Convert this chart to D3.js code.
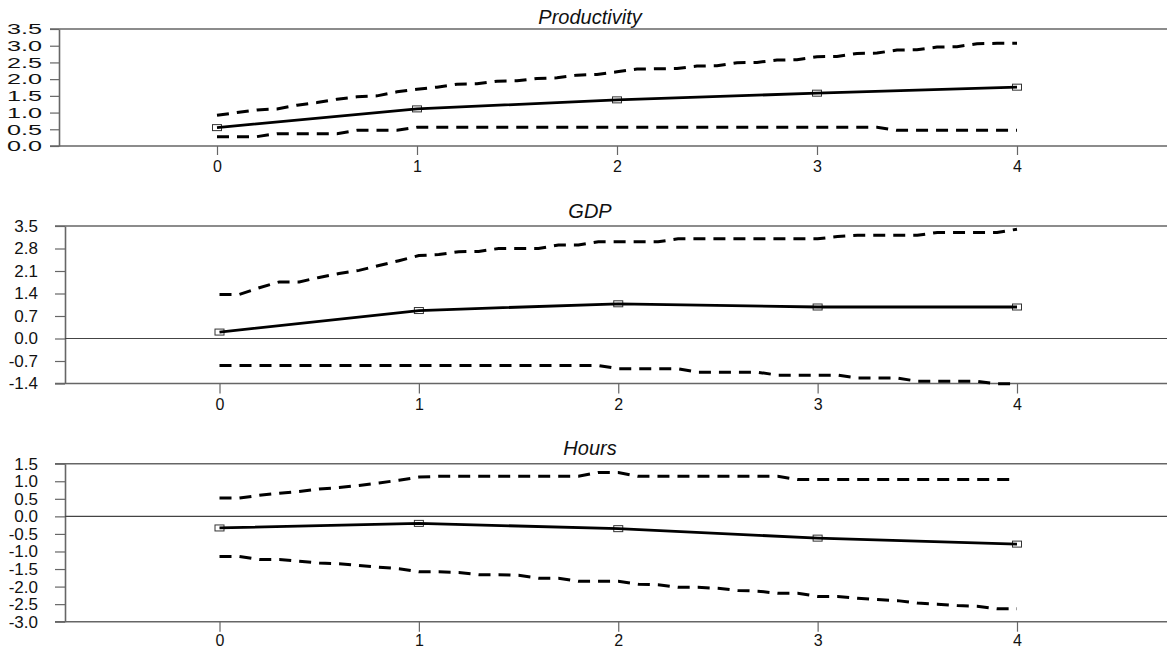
<!DOCTYPE html>
<html>
<head>
<meta charset="utf-8">
<script src="https://d3js.org/d3.v7.min.js"></script>
<style>
  body { margin: 0; background: #fff; }
  svg text { font-family: "Liberation Sans", Arial, sans-serif; fill: #111; }
</style>
</head>
<body>
<svg width="1167" height="651"></svg>
<script>
// horizons of the impulse response (solid line) and of the error bands (dashed)
const horizons = [0, 1, 2, 3, 4];
const bandSteps = [0, 0.1, 0.2, 0.3, 0.4, 0.5, 0.6, 0.7, 0.8, 0.9,
                   1, 1.1, 1.2, 1.3, 1.4, 1.5, 1.6, 1.7, 1.8, 1.9,
                   2, 2.1, 2.2, 2.3, 2.4, 2.5, 2.6, 2.7, 2.8, 2.9,
                   3, 3.1, 3.2, 3.3, 3.4, 3.5, 3.6, 3.7, 3.8, 3.9, 4];

const titles = ["Productivity", "GDP", "Hours"];

const prodTicks = [0, 0.5, 1, 1.5, 2, 2.5, 3, 3.5];
const prodMid = [0.55, 1.11, 1.38, 1.58, 1.76];
const prodUp = [0.92, 1.00, 1.08, 1.11, 1.22, 1.30, 1.40, 1.47, 1.50, 1.62,
                1.70, 1.76, 1.85, 1.86, 1.94, 1.95, 2.02, 2.04, 2.12, 2.14,
                2.22, 2.30, 2.31, 2.32, 2.39, 2.40, 2.49, 2.50, 2.57, 2.58,
                2.67, 2.68, 2.77, 2.78, 2.87, 2.88, 2.96, 2.97, 3.06, 3.07, 3.07];
const prodLo = [0.28, 0.28, 0.28, 0.37, 0.37, 0.37, 0.37, 0.47, 0.47, 0.47,
                0.56, 0.56, 0.56, 0.56, 0.56, 0.56, 0.56, 0.56, 0.56, 0.56,
                0.56, 0.56, 0.56, 0.56, 0.56, 0.56, 0.56, 0.56, 0.56, 0.56,
                0.56, 0.56, 0.56, 0.56, 0.47, 0.47, 0.47, 0.47, 0.47, 0.47, 0.47];

const gdpTicks = [-1.4, -0.7, 0, 0.7, 1.4, 2.1, 2.8, 3.5];
const gdpMid = [0.20, 0.87, 1.08, 0.98, 0.98];
const gdpUp = [1.37, 1.37, 1.58, 1.76, 1.76, 1.90, 2.02, 2.12, 2.27, 2.42,
               2.58, 2.61, 2.70, 2.71, 2.80, 2.80, 2.80, 2.91, 2.91, 3.01,
               3.01, 3.01, 3.01, 3.10, 3.10, 3.10, 3.10, 3.10, 3.10, 3.10,
               3.10, 3.17, 3.21, 3.21, 3.21, 3.21, 3.30, 3.30, 3.30, 3.30, 3.40];
const gdpLo = [-0.84, -0.84, -0.84, -0.84, -0.84, -0.84, -0.84, -0.84, -0.84, -0.84,
               -0.84, -0.84, -0.84, -0.84, -0.84, -0.84, -0.84, -0.84, -0.84, -0.84,
               -0.94, -0.94, -0.94, -0.94, -1.05, -1.05, -1.05, -1.05, -1.14, -1.14,
               -1.14, -1.14, -1.23, -1.23, -1.23, -1.33, -1.33, -1.33, -1.33, -1.41, -1.41];

const hoursTicks = [-3, -2.5, -2, -1.5, -1, -0.5, 0, 0.5, 1, 1.5];
const hoursMid = [-0.33, -0.20, -0.35, -0.62, -0.79];
const hoursUp = [0.52, 0.52, 0.60, 0.66, 0.71, 0.78, 0.82, 0.88, 0.95, 1.03,
                 1.12, 1.14, 1.14, 1.14, 1.14, 1.14, 1.14, 1.14, 1.14, 1.25,
                 1.25, 1.14, 1.14, 1.14, 1.14, 1.14, 1.14, 1.14, 1.14, 1.05,
                 1.05, 1.05, 1.05, 1.05, 1.05, 1.05, 1.05, 1.05, 1.05, 1.05, 1.05];
const hoursLo = [-1.14, -1.14, -1.23, -1.23, -1.28, -1.33, -1.35, -1.40, -1.45, -1.49,
                 -1.58, -1.58, -1.60, -1.66, -1.66, -1.68, -1.76, -1.76, -1.85, -1.85,
                 -1.85, -1.93, -1.95, -2.02, -2.02, -2.05, -2.11, -2.13, -2.19, -2.19,
                 -2.28, -2.28, -2.33, -2.37, -2.40, -2.47, -2.50, -2.54, -2.56, -2.63, -2.63];

const axisColor = "#666";
const W = 1167;

// layout of each panel
const panels = [
  { title: titles[0], mid: prodMid, up: prodUp, lo: prodLo, ticks: prodTicks,
    top: 29, bottom: 146, axisX: 59, tickLen: 9, pad: 8, x0: 217, x4: 1017,
    labelSize: 15, labelWidth: 35, titleY: 24, zero: false, xPad: 6 },
  { title: titles[1], mid: gdpMid, up: gdpUp, lo: gdpLo, ticks: gdpTicks,
    top: 226, bottom: 383.5, axisX: 65, tickLen: 10, pad: 17, x0: 219.5, x4: 1017,
    labelSize: 17, labelWidth: null, titleY: 218, zero: true, xPad: 5 },
  { title: titles[2], mid: hoursMid, up: hoursUp, lo: hoursLo, ticks: hoursTicks,
    top: 463.7, bottom: 621.7, axisX: 65, tickLen: 10, pad: 17, x0: 219.5, x4: 1017,
    labelSize: 17, labelWidth: null, titleY: 455, zero: true, xPad: 3 }
];

const svg = d3.select("svg");

panels.forEach(p => {
  const x = d3.scaleLinear().domain([0, 4]).range([p.x0, p.x4]);
  const y = d3.scaleLinear().domain(d3.extent(p.ticks)).range([p.bottom, p.top]);
  const g = svg.append("g");

  // top and bottom frame lines
  [p.top, p.bottom].forEach(yy => {
    g.append("line")
      .attr("x1", p.axisX - p.tickLen).attr("x2", W)
      .attr("y1", yy).attr("y2", yy)
      .attr("stroke", axisColor).attr("stroke-width", 1.6);
  });

  // y axis
  const ya = g.append("g")
    .attr("transform", `translate(${p.axisX},0)`)
    .call(d3.axisLeft(y).tickValues(p.ticks)
      .tickFormat(d => d.toFixed(1))
      .tickSize(p.tickLen).tickSizeOuter(0).tickPadding(p.pad));
  ya.select(".domain").attr("stroke", axisColor).attr("stroke-width", 1.6);
  ya.selectAll(".tick line").attr("stroke", axisColor).attr("stroke-width", 1.2);
  ya.selectAll(".tick text").style("font-size", p.labelSize + "px");
  if (p.labelWidth) {
    ya.selectAll(".tick text")
      .attr("textLength", p.labelWidth)
      .attr("lengthAdjust", "spacingAndGlyphs");
  }

  // x axis
  const xa = g.append("g")
    .attr("transform", `translate(0,${p.bottom})`)
    .call(d3.axisBottom(x).tickValues(horizons).tickFormat(d3.format("d"))
      .tickSize(p.tickLen).tickSizeOuter(0).tickPadding(p.xPad));
  xa.select(".domain").remove();
  xa.selectAll(".tick line").attr("stroke", axisColor).attr("stroke-width", 1.2);
  xa.selectAll(".tick text").style("font-size", "16px");

  // zero line
  if (p.zero) {
    g.append("line")
      .attr("x1", p.axisX).attr("x2", W)
      .attr("y1", y(0)).attr("y2", y(0))
      .attr("stroke", "#444").attr("stroke-width", 1.2);
  }

  // title
  g.append("text")
    .attr("x", 590).attr("y", p.titleY)
    .attr("text-anchor", "middle")
    .style("font-size", "20px").style("font-style", "italic")
    .text(p.title);

  // error bands
  const band = d3.line().x((d, i) => x(bandSteps[i])).y(d => y(d));
  [p.up, p.lo].forEach(vals => {
    g.append("path")
      .attr("d", band(vals))
      .attr("fill", "none")
      .attr("stroke", "#000")
      .attr("stroke-width", 3)
      .attr("stroke-dasharray", "12,8");
  });

  // markers
  g.selectAll("rect.mk")
    .data(p.mid)
    .enter()
    .append("rect")
    .attr("class", "mk")
    .attr("x", (d, i) => x(horizons[i]) - 4.5)
    .attr("y", d => y(d) - 3)
    .attr("width", 9).attr("height", 6)
    .attr("fill", "#fff")
    .attr("stroke", "#333").attr("stroke-width", 1);

  // impulse response
  const mid = d3.line().x((d, i) => x(horizons[i])).y(d => y(d));
  g.append("path")
    .attr("d", mid(p.mid))
    .attr("fill", "none")
    .attr("stroke", "#000")
    .attr("stroke-width", 2.8);
});
</script>
</body>
</html>
